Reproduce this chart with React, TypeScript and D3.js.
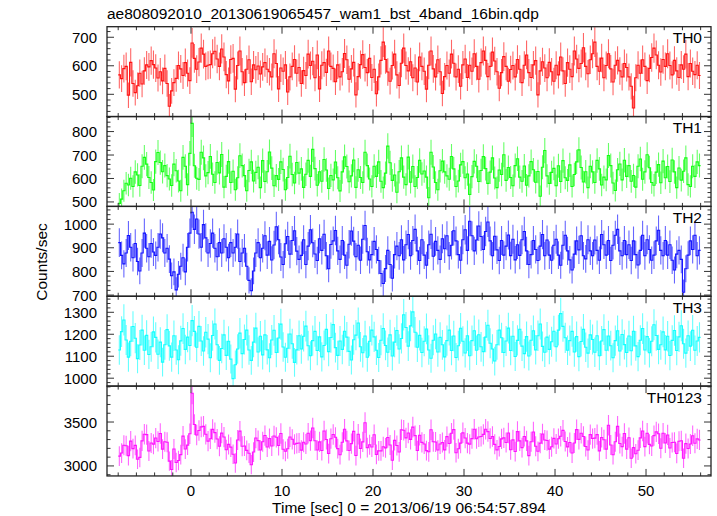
import React from 'react';
import * as d3 from 'd3';

// Light curves, 0.25 s bins starting at t = -8 s (counts/sec)
const BIN_START = -8;
const BIN_WIDTH = 0.25;

const TH0 = [
  568,555,590,598,497,612,538,506,530,574,536,582,603,596,618,604,
  592,557,579,547,591,538,458,512,541,556,601,589,566,611,574,548,
  680,626,588,613,662,641,598,602,604,642,651,624,598,659,631,569,
  547,622,626,518,601,652,579,541,588,621,544,603,586,599,571,596,
  611,588,579,561,642,608,519,592,581,603,508,561,598,622,574,594,
  538,583,566,641,601,616,558,638,519,602,611,577,652,598,591,544,
  603,561,579,643,621,553,589,612,498,562,604,639,594,576,626,559,
  588,502,561,619,683,622,578,546,601,641,568,531,609,662,601,582,
  614,558,592,543,631,598,581,518,602,652,589,561,621,579,503,562,
  601,574,641,609,561,588,528,603,624,559,602,581,642,598,553,611,
  652,619,562,598,648,617,579,521,576,632,598,546,587,601,561,622,
  588,541,602,638,576,559,603,618,498,582,614,592,558,612,579,546,
  602,568,631,582,538,611,588,562,652,624,591,608,663,598,572,621,
  642,683,598,581,627,558,601,642,589,543,602,619,582,561,608,594,
  561,528,452,558,602,574,621,598,548,591,629,662,638,602,578,622,
  598,642,601,568,619,582,559,603,588,641,562,608,581,569,602,566,
];

const TH1 = [
  494,512,548,580,572,601,566,628,615,570,652,690,661,604,583,551,
  672,711,668,629,655,612,598,570,661,633,589,548,690,652,574,707,
  835,654,601,596,712,688,611,625,694,618,583,668,624,702,563,609,
  672,583,631,552,603,697,655,612,548,634,671,589,626,648,561,676,
  587,629,713,644,569,612,596,671,638,552,604,695,617,581,668,623,
  641,562,618,677,609,724,642,571,629,588,681,636,557,613,594,670,
  603,547,628,692,651,586,611,679,562,637,604,583,712,655,598,566,
  652,609,671,588,561,623,738,667,592,615,541,629,688,606,574,691,
  584,651,566,604,677,619,632,606,518,712,649,583,552,633,674,628,
  611,597,694,641,566,589,658,672,603,619,532,608,673,652,587,634,
  693,642,579,627,688,602,561,636,617,701,592,647,604,569,655,684,
  606,588,653,571,611,672,637,584,630,524,648,719,611,579,626,643,
  569,654,587,676,603,592,658,566,617,671,722,647,585,629,561,652,
  628,583,677,641,572,606,594,698,655,581,549,637,662,594,678,609,
  655,588,613,563,652,683,597,628,701,646,583,571,627,659,582,674,
  603,651,587,679,628,561,645,593,631,688,574,566,652,609,671,655,
];

const TH2 = [
  922,868,832,878,952,902,858,918,842,802,878,962,898,862,918,882,
  868,902,958,942,878,898,852,782,798,722,788,822,858,798,902,962,
  1050,978,1022,958,902,998,942,878,918,962,898,862,922,878,938,902,
  858,922,878,902,958,842,878,898,822,762,718,802,878,922,858,898,
  951,869,927,848,912,989,934,861,829,917,948,873,931,972,886,851,
  868,934,829,907,976,921,874,846,938,889,957,866,811,914,929,973,
  887,851,931,869,826,915,971,928,862,911,847,936,994,883,849,871,
  927,893,846,791,749,812,889,829,771,871,907,866,934,849,913,956,
  866,931,978,887,846,934,869,826,913,957,864,927,889,851,938,896,
  951,866,911,972,929,871,847,934,976,889,1012,951,887,933,992,948,
  893,969,1009,929,866,949,891,846,931,869,907,954,867,936,849,913,
  868,934,969,887,829,871,931,893,846,907,956,866,933,869,847,911,
  936,869,826,911,953,887,849,806,873,929,891,951,866,853,934,887,
  866,933,889,847,956,913,869,931,846,911,953,978,887,866,931,871,
  913,846,929,871,827,889,953,866,934,893,847,869,929,974,889,866,
  931,869,913,847,806,873,889,851,712,811,869,929,893,953,866,889,
];

const TH3 = [
  1128,1212,1265,1174,1096,1168,1235,1182,1089,1151,1219,1127,1195,1108,1143,1211,
  1186,1109,1164,1073,1152,1221,1147,1096,1193,1128,1084,1170,1226,1131,1187,1149,
  1262,1213,1141,1236,1169,1124,1209,1178,1093,1194,1247,1152,1081,1135,1197,1104,
  1168,1087,998,1061,1133,1205,1112,1176,1219,1128,1081,1164,1228,1119,1191,1106,
  1197,1129,1093,1174,1218,1117,1183,1246,1142,1095,1136,1201,1157,1072,1129,1193,
  1133,1191,1237,1148,1102,1171,1213,1126,1188,1097,1149,1222,1121,1185,1244,1139,
  1104,1169,1131,1214,1187,1122,1083,1175,1196,1251,1143,1116,1192,1095,1168,1219,
  1188,1127,1094,1173,1226,1149,1118,1197,1101,1164,1217,1133,1181,1289,1231,1146,
  1238,1302,1209,1141,1195,1117,1168,1224,1128,1091,1173,1201,1119,1186,1152,1097,
  1171,1219,1126,1192,1094,1148,1227,1168,1115,1193,1102,1171,1216,1127,1198,1143,
  1121,1187,1241,1159,1133,1078,1152,1219,1184,1117,1169,1228,1126,1191,1099,1172,
  1223,1146,1112,1189,1101,1173,1216,1129,1193,1247,1145,1118,1187,1131,1166,1214,
  1143,1219,1294,1236,1184,1127,1171,1213,1119,1189,1098,1167,1222,1141,1114,1197,
  1176,1118,1193,1102,1169,1221,1127,1192,1148,1093,1171,1216,1124,1199,1153,1117,
  1192,1125,1214,1147,1098,1173,1226,1128,1189,1116,1168,1243,1194,1131,1152,1211,
  1129,1191,1103,1172,1217,1126,1188,1239,1157,1114,1193,1146,1218,1127,1169,1186,
];

// Sum of the four bands
const TH0123 = TH0.map((v, i) => v + TH1[i] + TH2[i] + TH3[i]);

const PANEL_NAMES = ['TH0', 'TH1', 'TH2', 'TH3', 'TH0123'];
const PANEL_SERIES = [TH0, TH1, TH2, TH3, TH0123];
const PANEL_COLORS = ['#ff0000', '#00ff00', '#0000ff', '#00ffff', '#ff00ff'];
const PANEL_DOMAINS: [number, number][] = [[422, 737], [481, 864], [695, 1075], [964, 1373], [2886, 3909]];
const PANEL_MAJOR_TICKS = [[500, 600, 700], [500, 600, 700, 800], [700, 800, 900, 1000], [1000, 1100, 1200, 1300], [3000, 3500]];
const PANEL_MINOR_STEP = [20, 20, 20, 20, 100];
const X_TICK_LABELS = [0, 10, 20, 30, 40, 50];

const TITLE = 'ae808092010_20130619065457_wam1_bst_4band_16bin.qdp';
const X_TITLE = 'Time [sec] 0 = 2013/06/19 06:54:57.894';
const Y_TITLE = 'Counts/sec';

const W = 717;
const H = 516;
const LEFT = 107;
const RIGHT = 711;
const TOP = 26.7;
const PANEL_H = 89.85;
const FONT = '"Liberation Sans", Arial, Helvetica, sans-serif';
const MAJ = 7;
const MIN = 3.5;

export default function App() {
  const x = d3.scaleLinear().domain([-9.23, 57.14]).range([LEFT, RIGHT]);
  const xMinor = d3.range(-8, 57, 2);

  return (
    <svg width={W} height={H} style={{ position: 'absolute', left: 0, top: 0, background: '#fff' }}
      fontFamily={FONT}>
      <defs>
        {PANEL_NAMES.map((n, p) => (
          <clipPath id={`clip${p}`} key={n}>
            <rect x={LEFT} y={TOP + p * PANEL_H} width={RIGHT - LEFT} height={PANEL_H} />
          </clipPath>
        ))}
      </defs>
      <text x={LEFT} y={19} fontSize={15.5} fill="#000">{TITLE}</text>
      {PANEL_NAMES.map((name, p) => {
        const y0 = TOP + p * PANEL_H;
        const y1 = y0 + PANEL_H;
        const y = d3.scaleLinear().domain(PANEL_DOMAINS[p]).range([y1, y0]);
        const vals = PANEL_SERIES[p];
        let stepPath = '';
        let vPath = '';
        vals.forEach((v, i) => {
          const t0 = BIN_START + i * BIN_WIDTH;
          const tc = t0 + BIN_WIDTH / 2;
          const err = Math.sqrt(v / BIN_WIDTH);
          stepPath += (i === 0 ? `M${x(t0)},${y(v)}` : `V${y(v)}`) + `H${x(t0 + BIN_WIDTH)}`;
          vPath += `M${x(tc)},${y(v - err)}V${y(v + err)}`;
        });
        const [lo, hi] = PANEL_DOMAINS[p];
        const step = PANEL_MINOR_STEP[p];
        const yMinor = d3.range(Math.ceil(lo / step) * step, hi, step);
        const majors = PANEL_MAJOR_TICKS[p];
        return (
          <g key={name}>
            <g clipPath={`url(#clip${p})`}>
              <path d={vPath} stroke={PANEL_COLORS[p]} strokeWidth={1.1} strokeOpacity={0.6} fill="none" />
              <path d={stepPath} stroke={PANEL_COLORS[p]} strokeWidth={1.1} strokeOpacity={0.9} fill="none" />
            </g>
            {yMinor.map(v => {
              const len = majors.includes(v) ? MAJ : MIN;
              const yy = y(v);
              return (
                <g key={`y${v}`} stroke="#333" strokeWidth={1}>
                  <line x1={LEFT} x2={LEFT + len} y1={yy} y2={yy} />
                  <line x1={RIGHT} x2={RIGHT - len} y1={yy} y2={yy} />
                </g>
              );
            })}
            {xMinor.map(t => {
              const len = t % 10 === 0 ? MAJ : MIN;
              const xx = x(t);
              return (
                <g key={`x${t}`} stroke="#333" strokeWidth={1}>
                  <line x1={xx} x2={xx} y1={y0} y2={y0 + len} />
                  <line x1={xx} x2={xx} y1={y1} y2={y1 - len} />
                </g>
              );
            })}
            {majors.map(v => (
              <text key={`l${v}`} x={97} y={y(v) + 5.5} fontSize={15} textAnchor="end" fill="#000">{v}</text>
            ))}
            <text x={702} y={y0 + 16.6} fontSize={15.5} textAnchor="end" fill="#000">{name}</text>
            <rect x={LEFT} y={y0} width={RIGHT - LEFT} height={PANEL_H} fill="none" stroke="#222" strokeWidth={1.3} />
          </g>
        );
      })}
      {X_TICK_LABELS.map(t => (
        <text key={`xl${t}`} x={x(t)} y={496} fontSize={15} textAnchor="middle" fill="#000">{t}</text>
      ))}
      <text x={(LEFT + RIGHT) / 2} y={513} fontSize={15.5} textAnchor="middle" fill="#000">{X_TITLE}</text>
      <text transform={`translate(47,262) rotate(-90)`} fontSize={15.5} textAnchor="middle" fill="#000">{Y_TITLE}</text>
    </svg>
  );
}
